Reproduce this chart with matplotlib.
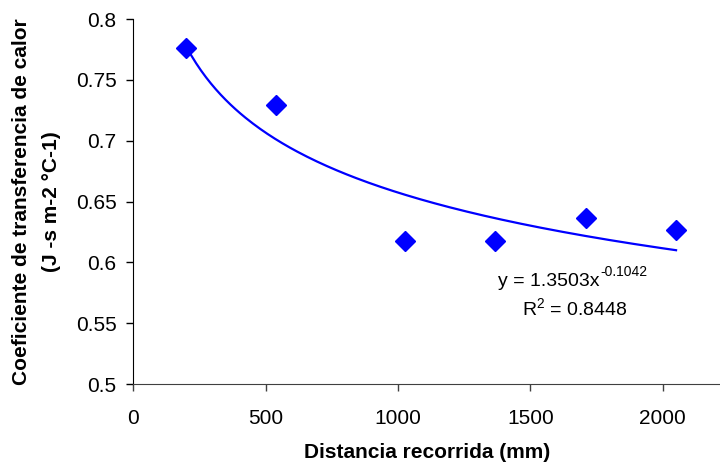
import numpy as np
import matplotlib
matplotlib.use('Agg')
import matplotlib.pyplot as plt

plt.rcParams['font.family'] = ['Liberation Sans', 'DejaVu Sans']
plt.rcParams['mathtext.fontset'] = 'custom'
plt.rcParams['mathtext.rm'] = 'Liberation Sans'
plt.rcParams['mathtext.it'] = 'Liberation Sans'

# datos
distancia = [200, 540, 1025, 1365, 1710, 2050]
coeficiente = [0.7765, 0.7295, 0.6175, 0.6175, 0.6368, 0.6267]
x_ticks = [0, 500, 1000, 1500, 2000]
y_ticks = [0.5, 0.55, 0.6, 0.65, 0.7, 0.75, 0.8]

# linea de tendencia potencial (segun la ecuacion del grafico)
a_pot = 1.3503
b_pot = -0.1042
r2 = 0.8448

fig = plt.figure(figsize=(7.2, 4.63), dpi=100)
ax = fig.add_axes([0.1852, 0.1706, 0.8148, 0.788])

xt = np.linspace(min(distancia), max(distancia), 200)
ax.plot(xt, a_pot * xt ** b_pot, color='#0000FF', lw=1.6, zorder=2)
ax.plot(distancia, coeficiente, 'D', color='#0000FF', ms=10, mec='#0000FF', zorder=3)

ax.set_xlim(0, 2216)
ax.set_ylim(0.5, 0.8)
ax.set_xticks(x_ticks)
ax.set_xticklabels([str(v) for v in x_ticks])
ax.set_yticks(y_ticks)
ax.set_yticklabels(['%g' % v for v in y_ticks])

ax.spines['top'].set_visible(False)
ax.spines['right'].set_visible(False)
ax.spines['left'].set_color('black')
ax.spines['bottom'].set_color('#404040')
ax.tick_params(axis='both', direction='out', length=5, width=1, labelsize=15)
ax.tick_params(axis='x', pad=13, colors='#404040', labelcolor='black')
ax.tick_params(axis='y', pad=7)

ax.set_xlabel('Distancia recorrida (mm)', fontsize=15, fontweight='bold', labelpad=10.5)
ax.set_ylabel('Coeficiente de transferencia de calor\n(J -s m-2 °C-1)',
              fontsize=15, fontweight='bold', linespacing=1.7, labelpad=11)

# ecuacion de la tendencia
t1 = ax.text(1378, 0.5806, 'y = %.4fx' % a_pot, fontsize=14, ha='left', va='baseline')
ax.annotate('%.4f' % b_pot, xy=(1.0, 0.62), xycoords=t1, xytext=(0.5, 0),
            textcoords='offset points', fontsize=10, ha='left', va='bottom')
ax.text(1467, 0.5569, 'R$^{2}$ = %.4f' % r2, fontsize=14, ha='left', va='baseline')

fig.savefig('out.png', dpi=100)
